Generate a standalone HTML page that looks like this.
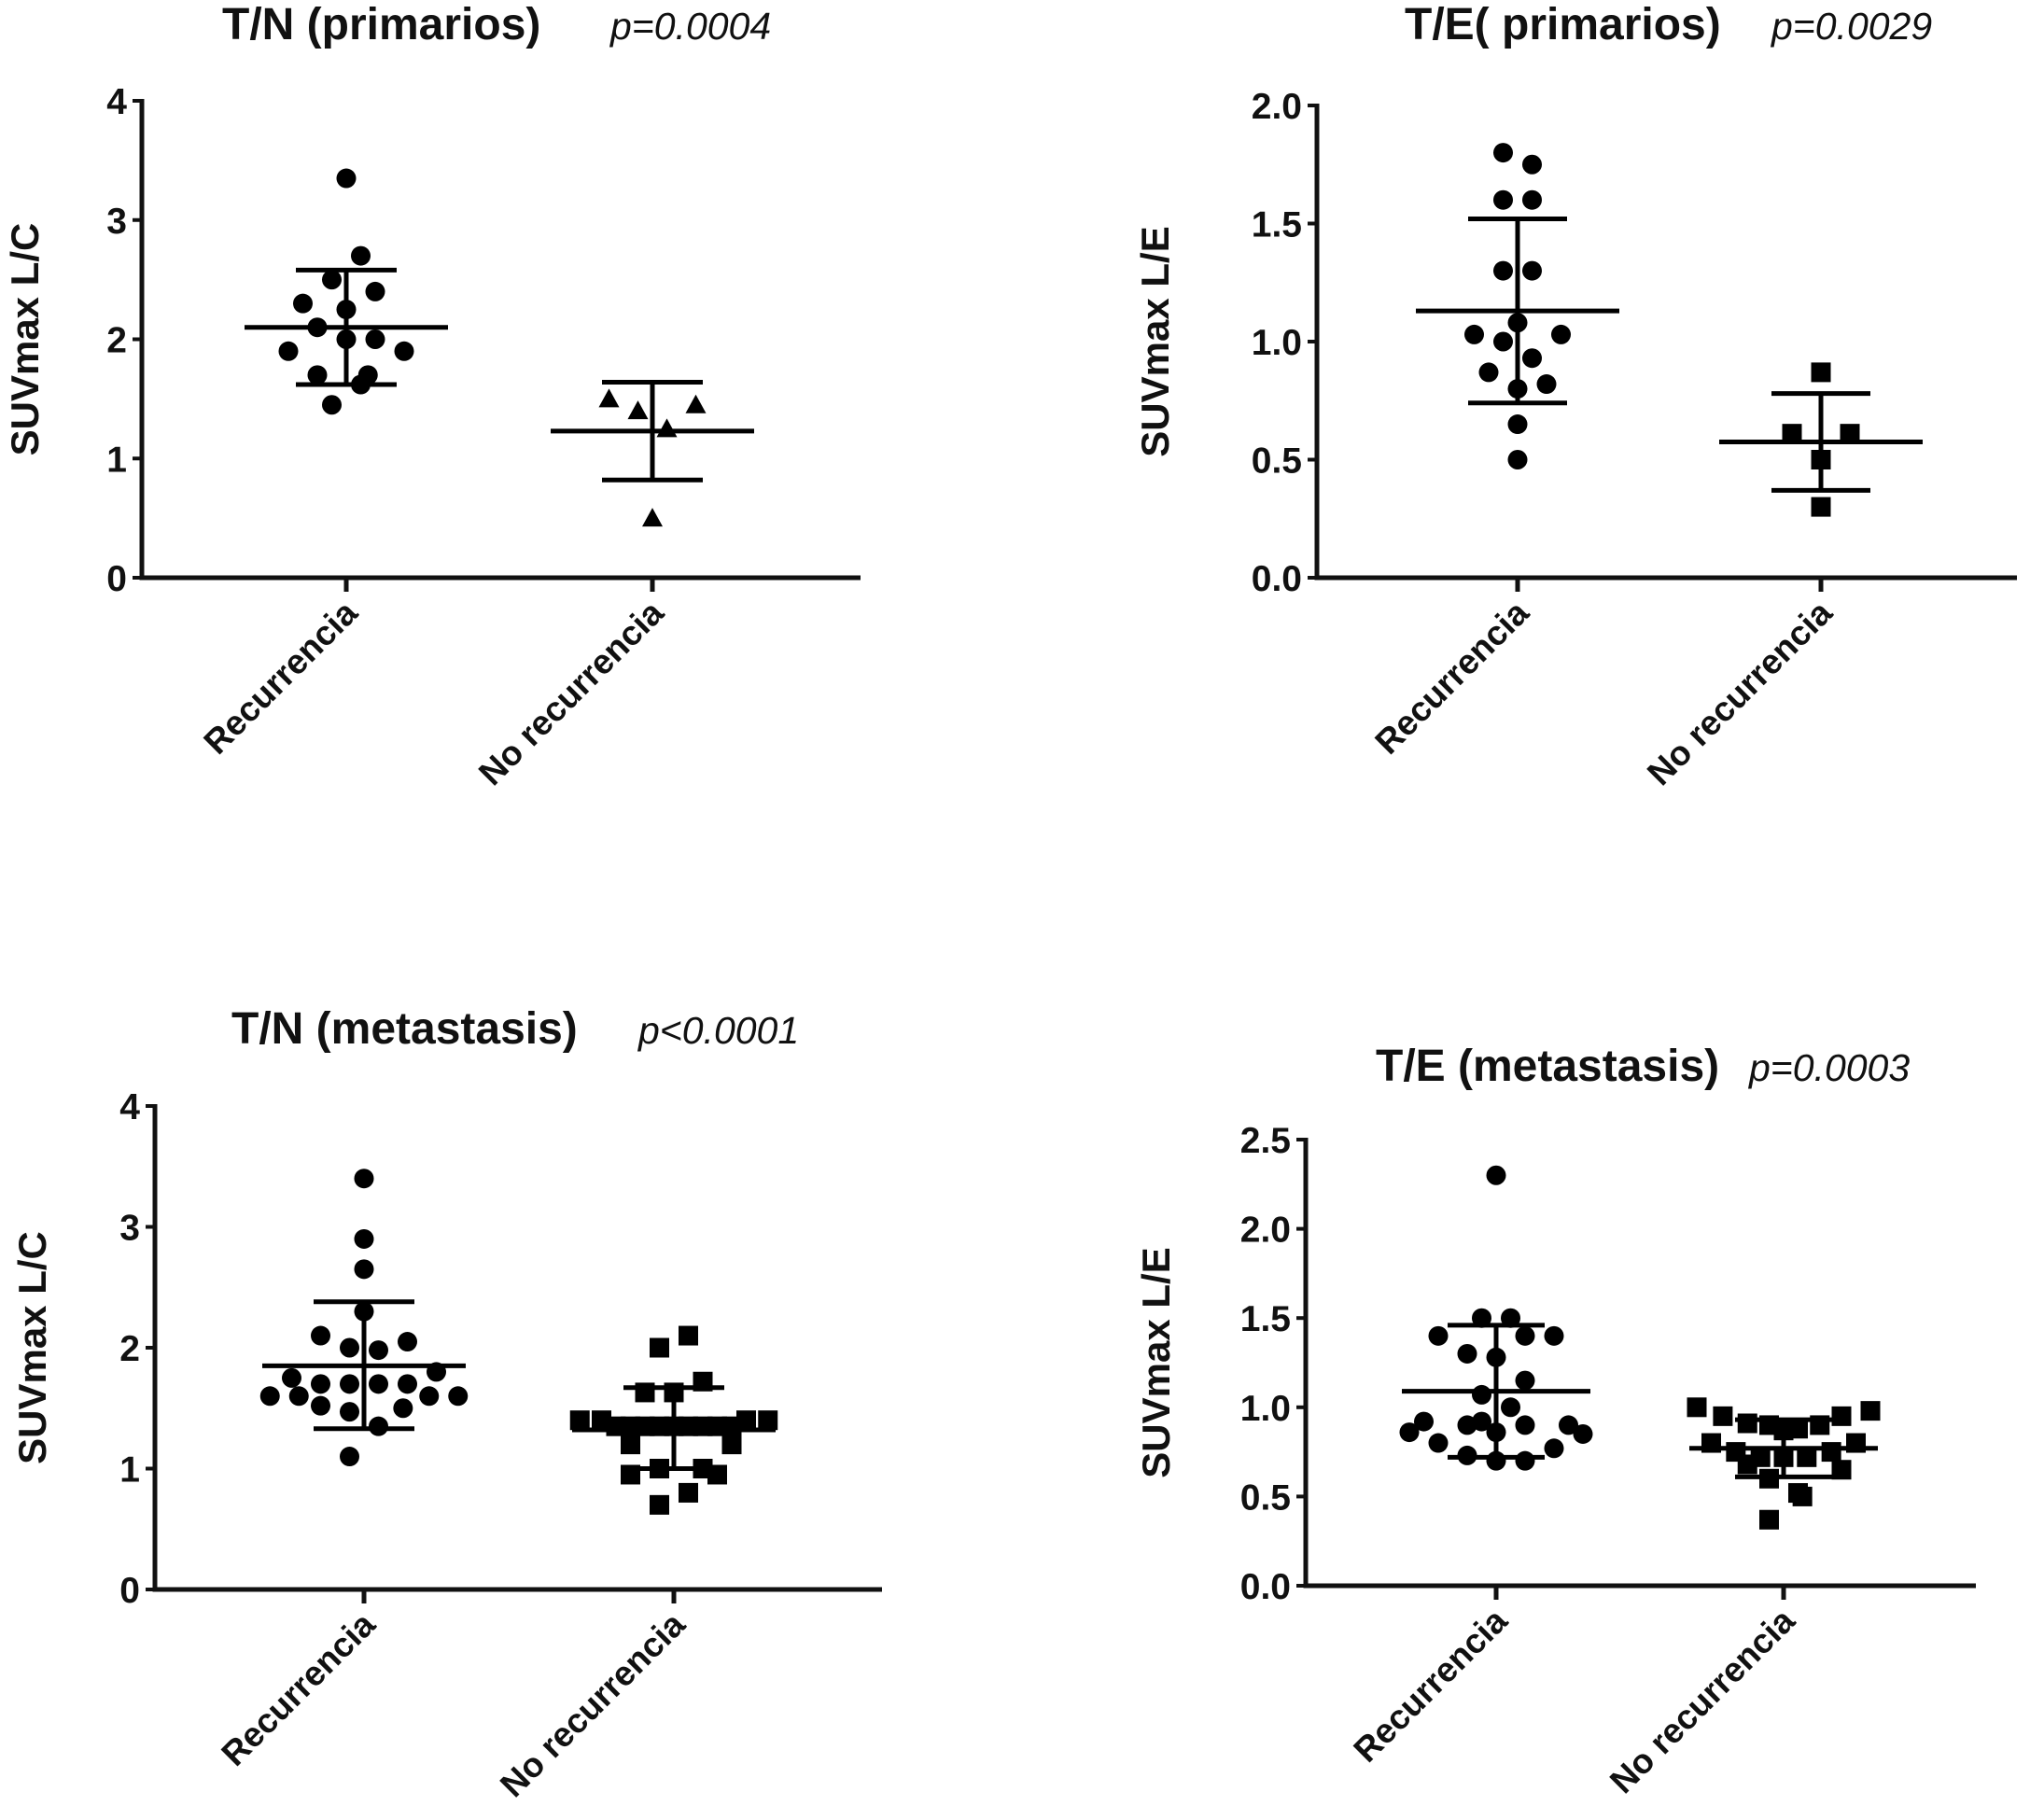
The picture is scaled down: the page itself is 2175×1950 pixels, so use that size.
<!DOCTYPE html>
<html><head><meta charset="utf-8"><style>
html,body{margin:0;padding:0;background:#fff;}
svg{display:block;font-family:"Liberation Sans",Arial,sans-serif;}
</style></head><body>
<svg id="fig" width="2175" height="1950" viewBox="0 0 2175 1950"></svg>
<script>
// ---- Data ----
const categories = ["Recurrencia", "No recurrencia"];

// Panel A: T/N (primarios)
const aTicks = [0, 1, 2, 3, 4];
const aRecVals = [3.35, 2.7, 2.5, 2.4, 2.3, 2.25, 2.1, 2.0, 2.0, 1.9, 1.9, 1.7, 1.7, 1.62, 1.45];
const aRecJit  = [0, 1, -1, 2, -3, 0, -2, 0, 2, -4, 4, -2, 1.5, 1, -1];
const aNoVals  = [1.5, 1.4, 1.25, 1.45, 0.5];
const aNoJit   = [-3, -1, 1, 3, 0];
const aMean = [2.1, 1.23];
const aSDhi = [2.58, 1.64];
const aSDlo = [1.62, 0.82];

// Panel B: T/E (primarios)
const bTicks = [0.0, 0.5, 1.0, 1.5, 2.0];
const bRecVals = [1.8, 1.75, 1.6, 1.6, 1.3, 1.3, 1.08, 1.03, 1.03, 1.0, 0.93, 0.87, 0.82, 0.8, 0.65, 0.5];
const bRecJit  = [-1, 1, -1, 1, -1, 1, 0, -3, 3, -1, 1, -2, 2, 0, 0, 0];
const bNoVals  = [0.87, 0.61, 0.61, 0.5, 0.3];
const bNoJit   = [0, -2, 2, 0, 0];
const bMean = [1.13, 0.575];
const bSDhi = [1.52, 0.78];
const bSDlo = [0.74, 0.37];

// Panel C: T/N (metastasis)
const cTicks = [0, 1, 2, 3, 4];
const cRecVals = [3.4, 2.9, 2.65, 2.3, 2.1, 2.05, 2.0, 1.98, 1.8, 1.75, 1.7, 1.7, 1.7, 1.7, 1.6, 1.6, 1.6, 1.6, 1.52, 1.5, 1.47, 1.35, 1.1];
const cRecJit  = [0, 0, 0, 0, -3, 3, -1, 1, 5, -5, -3, -1, 1, 3, -6.5, -4.5, 4.5, 6.5, -3, 2.7, -1, 1, -1];
const cNoVals  = [2.1, 2.0, 1.72, 1.63, 1.63, 1.4, 1.4, 1.4, 1.4, 1.35, 1.35, 1.35, 1.35, 1.35, 1.35, 1.35, 1.35, 1.35, 1.2, 1.2, 1.0, 1.0, 0.95, 0.95, 0.8, 0.7];
const cNoJit   = [1, -1, 2, -2, 0, -6.5, -5, 5, 6.5, -4, -3, -2, -1, 0, 1, 2, 3, 4, -3, 4, -1, 2, -3, 3, 1, -1];
const cMean = [1.85, 1.32];
const cSDhi = [2.38, 1.67];
const cSDlo = [1.33, 1.0];

// Panel D: T/E (metastasis)
const dTicks = [0.0, 0.5, 1.0, 1.5, 2.0, 2.5];
const dRecVals = [2.3, 1.5, 1.5, 1.4, 1.4, 1.4, 1.3, 1.28, 1.15, 1.07, 1.0, 0.92, 0.9, 0.9, 0.9, 0.92, 0.86, 0.86, 0.85, 0.8, 0.77, 0.73, 0.7, 0.7];
const dRecJit  = [0, -1, 1, -4, 2, 4, -2, 0, 2, -1, 1, -5, -2, 2, 5, -1, -6, 0, 6, -4, 4, -2, 0, 2];
const dNoVals  = [1.0, 0.98, 0.95, 0.95, 0.91, 0.9, 0.88, 0.9, 0.87, 0.8, 0.8, 0.75, 0.75, 0.72, 0.72, 0.72, 0.68, 0.65, 0.6, 0.52, 0.5, 0.37];
const dNoJit   = [-6, 6, -4.2, 4, -2.5, -1, 1, 2.5, 0, -5, 5, -3.3, 3.3, -1.6, 0, 1.6, -2.5, 4, -1, 1, 1.3, -1];
const dMean = [1.09, 0.77];
const dSDhi = [1.46, 0.93];
const dSDlo = [0.72, 0.61];

// ---- Layout ----
const panels = [
 {id:'tn-primarios', title:'T/N (primarios)', p:'p=0.0004', tx:238, px:654, ty:42, ax:152, ax2:922, yTop:108, yBot:619, ymax:4, ticks:aTicks, dec:0, cx:[371,699], ylab:'SUVmax L/C', ylx:26,
  rec:aRecVals, recJ:aRecJit, no:aNoVals, noJ:aNoJit, noShape:'tri', mean:aMean, hi:aSDhi, lo:aSDlo, mhw:109, chw:54, jit:15.5},
 {id:'te-primarios', title:'T/E( primarios)', p:'p=0.0029', tx:1505, px:1898, ty:42, ax:1411, ax2:2161, yTop:113, yBot:619, ymax:2, ticks:bTicks, dec:1, cx:[1626,1951], ylab:'SUVmax L/E', ylx:1237,
  rec:bRecVals, recJ:bRecJit, no:bNoVals, noJ:bNoJit, noShape:'sq', mean:bMean, hi:bSDhi, lo:bSDlo, mhw:109, chw:53, jit:15.5},
 {id:'tn-metastasis', title:'T/N (metastasis)', p:'p<0.0001', tx:248, px:684, ty:1118, ax:166, ax2:945, yTop:1185, yBot:1703, ymax:4, ticks:cTicks, dec:0, cx:[390,722], ylab:'SUVmax L/C', ylx:34,
  rec:cRecVals, recJ:cRecJit, no:cNoVals, noJ:cNoJit, noShape:'sq', mean:cMean, hi:cSDhi, lo:cSDlo, mhw:109, chw:54, jit:15.5},
 {id:'te-metastasis', title:'T/E (metastasis)', p:'p=0.0003', tx:1474, px:1874, ty:1158, ax:1399, ax2:2117, yTop:1221, yBot:1699, ymax:2.5, ticks:dTicks, dec:1, cx:[1603,1911], ylab:'SUVmax L/E', ylx:1238,
  rec:dRecVals, recJ:dRecJit, no:dNoVals, noJ:dNoJit, noShape:'sq', mean:dMean, hi:dSDhi, lo:dSDlo, mhw:101, chw:52, jit:15.5}
];

const NS = 'http://www.w3.org/2000/svg';
const svg = document.getElementById('fig');
function mk(tag, attrs, parent, text){
  const e = document.createElementNS(NS, tag);
  for (const k in attrs) e.setAttribute(k, attrs[k]);
  if (text !== undefined) e.textContent = text;
  parent.appendChild(e);
  return e;
}

panels.forEach(P => {
  const g = mk('g', {}, svg);
  
  
  const y = v => P.yBot - (v / P.ymax) * (P.yBot - P.yTop);

  const t = mk('text', {x:P.tx, y:P.ty, 'font-size':48, 'font-weight':'bold', fill:'#111'}, g, P.title);
  
  
  const pv = mk('text', {x:P.px, y:P.ty, 'font-size':41, 'font-style':'italic', fill:'#111'}, g, P.p);
  
  

  const yl = mk('text', {x:0, y:0, 'font-size':42, 'font-weight':'bold', 'text-anchor':'middle', fill:'#111',
     transform:`translate(${P.ylx + 15},${(P.yTop + P.yBot) / 2}) rotate(-90)`}, g, P.ylab);
  
  

  const yAxis = mk('line', {x1:P.ax, y1:P.yTop - 2, x2:P.ax, y2:P.yBot + 2.5, stroke:'#111', 'stroke-width':5}, g);
  
  
  const xAxis = mk('line', {x1:P.ax - 2.5, y1:P.yBot, x2:P.ax2, y2:P.yBot, stroke:'#111', 'stroke-width':5}, g);
  
  

  P.ticks.forEach(v => {
    const yy = y(v);
    const tk = mk('line', {x1:P.ax - 10, y1:yy, x2:P.ax, y2:yy, stroke:'#111', 'stroke-width':4}, g);
    
    
    const tl = mk('text', {x:P.ax - 16, y:yy + 14, 'font-size':39, 'font-weight':'bold', 'text-anchor':'end', fill:'#111'}, g, v.toFixed(P.dec));
    
    
  });

  categories.forEach((c, i) => {
    const cx = P.cx[i];
    const tk = mk('line', {x1:cx, y1:P.yBot, x2:cx, y2:P.yBot + 15, stroke:'#111', 'stroke-width':5}, g);
    
    
    const cl = mk('text', {x:0, y:0, 'font-size':37, 'font-weight':'bold', 'text-anchor':'end', fill:'#111',
       transform:`translate(${cx + 14},${P.yBot + 40}) rotate(-45)`}, g, c);
    
    
  });

  P.rec.forEach((v, i) => {
    const d = mk('circle', {cx:P.cx[0] + P.recJ[i] * P.jit, cy:y(v), r:10.5, fill:'#000'}, g);
    
    
  });
  P.no.forEach((v, i) => {
    const px = P.cx[1] + P.noJ[i] * P.jit, py = y(v);
    let d;
    if (P.noShape === 'tri') {
      d = mk('polygon', {points:`${px},${py-11} ${px-11},${py+9} ${px+11},${py+9}`, fill:'#000'}, g);
    } else {
      d = mk('rect', {x:px - 10.5, y:py - 10.5, width:21, height:21, fill:'#000'}, g);
    }
    
    
  });

  categories.forEach((c, i) => {
    const cx = P.cx[i];
    const m = mk('line', {x1:cx - P.mhw, y1:y(P.mean[i]), x2:cx + P.mhw, y2:y(P.mean[i]), stroke:'#000', 'stroke-width':5}, g);
    
    
    const v = mk('line', {x1:cx, y1:y(P.hi[i]), x2:cx, y2:y(P.lo[i]), stroke:'#000', 'stroke-width':5}, g);
    
    
    const h = mk('line', {x1:cx - P.chw, y1:y(P.hi[i]), x2:cx + P.chw, y2:y(P.hi[i]), stroke:'#000', 'stroke-width':5}, g);
    
    
    const l = mk('line', {x1:cx - P.chw, y1:y(P.lo[i]), x2:cx + P.chw, y2:y(P.lo[i]), stroke:'#000', 'stroke-width':5}, g);
    
    
  });
});
</script>
</body></html>
